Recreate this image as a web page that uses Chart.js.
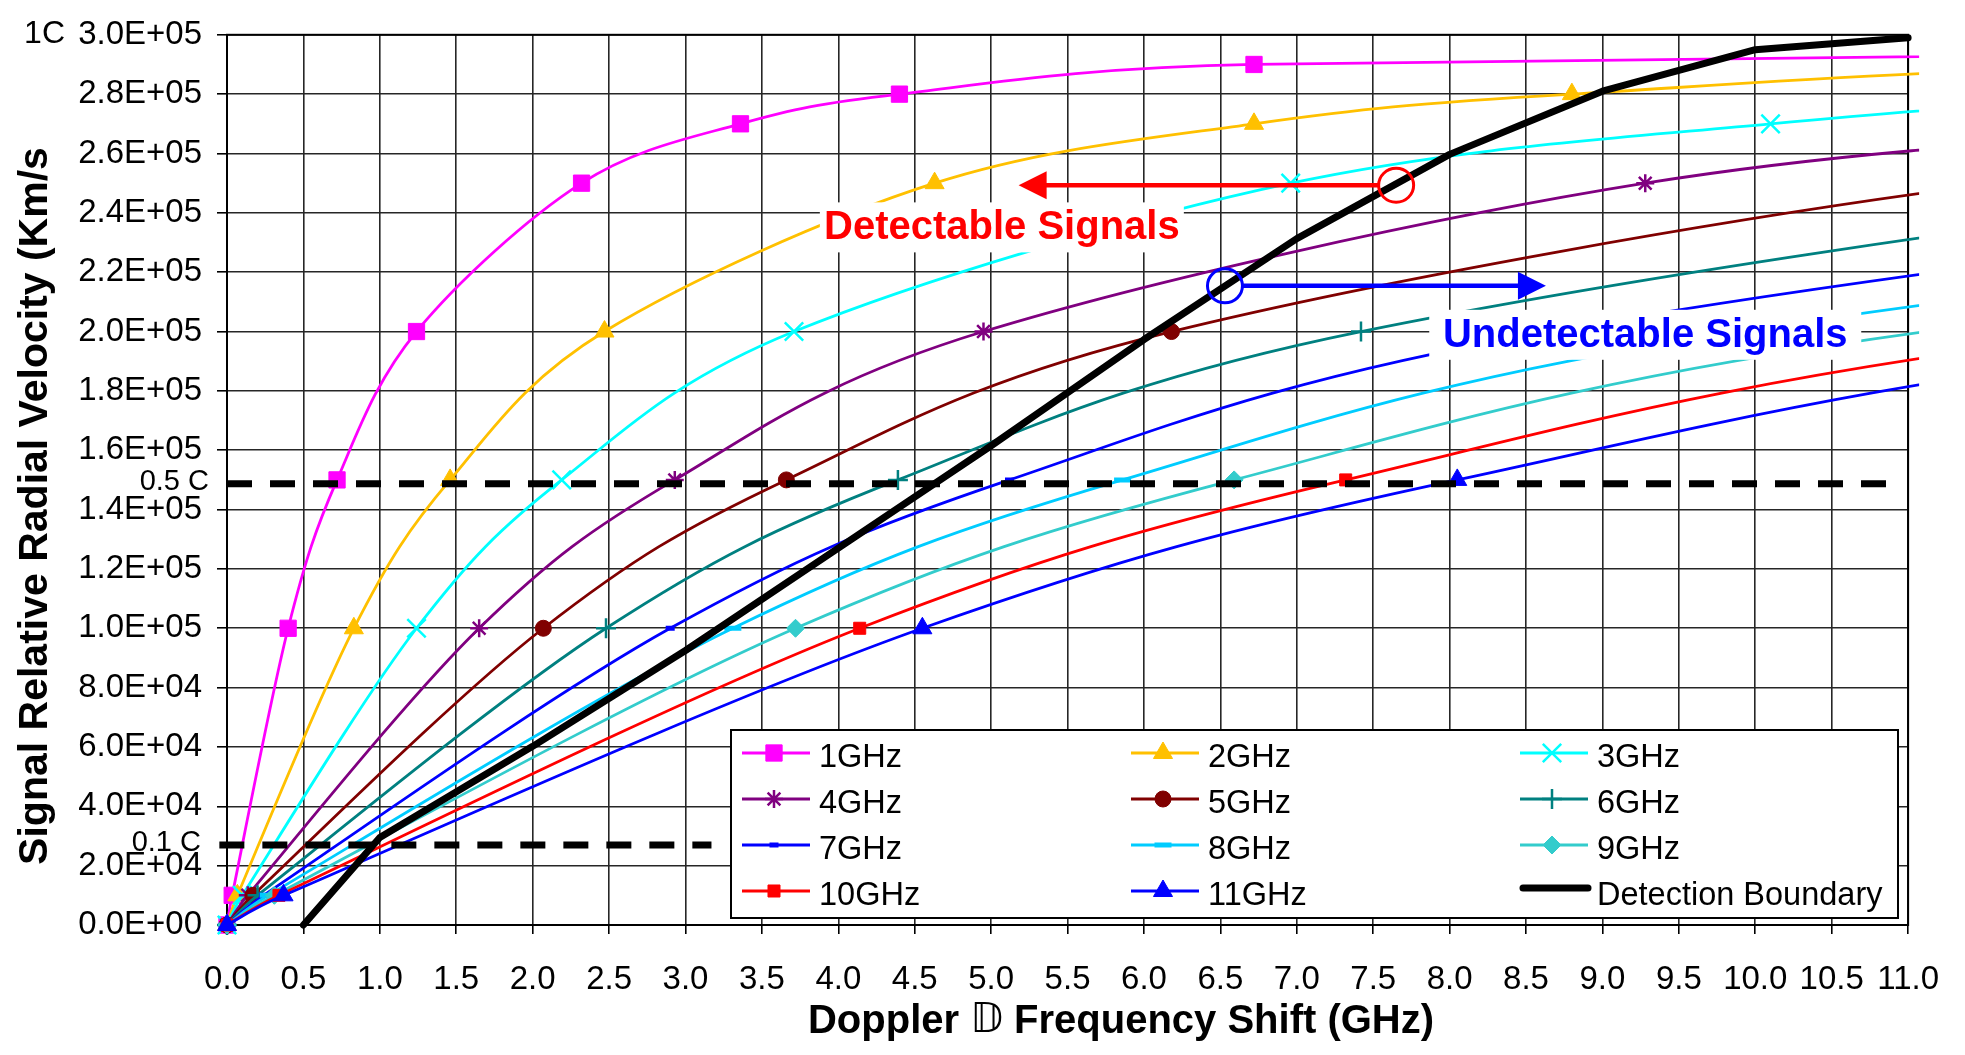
<!DOCTYPE html>
<html>
<head>
<meta charset="utf-8">
<title>Signal relative radial velocity vs Doppler frequency shift</title>
<script src="https://cdn.jsdelivr.net/npm/chart.js@4.4.1/dist/chart.umd.min.js"></script>
<style>
  html, body { margin: 0; padding: 0; background: #fff; }
  canvas { display: block; }
</style>
</head>
<body>
<canvas id="dopplerChart" width="1965" height="1055"></canvas>
<script>
// velocities (km/s) of the plotted points, shared by every carrier frequency
const velocity = [0, 1e4, 1e5, 1.5e5, 2e5, 2.5e5, 2.7e5, 2.8e5, 2.9e5, 2.99e5];

// Doppler shift (GHz) for each carrier (last ones run past the right edge)
const shift1GHz  = [0, 0.034, 0.40, 0.72, 1.24, 2.32, 3.36, 4.40, 6.72, 23.5];
const shift2GHz  = [0, 0.068, 0.83, 1.46, 2.47, 4.63, 6.72, 8.80, 13.36, 46.9];
const shift3GHz  = [0, 0.10, 1.24, 2.19, 3.71, 6.96, 10.10, 13.16, 20.0];
const shift4GHz  = [0, 0.136, 1.65, 2.93, 4.95, 9.28, 13.44, 17.5];
const shift5GHz  = [0, 0.17, 2.07, 3.66, 6.18, 11.58, 16.8];
const shift6GHz  = [0, 0.20, 2.48, 4.39, 7.42, 13.9, 20.15];
const shift7GHz  = [0, 0.24, 2.90, 5.12, 8.65, 16.2, 23.5];
const shift8GHz  = [0, 0.27, 3.31, 5.86, 9.89, 18.5, 26.9];
const shift9GHz  = [0, 0.31, 3.72, 6.59, 11.12, 20.85];
const shift10GHz = [0, 0.34, 4.14, 7.32, 12.36, 23.2];
const shift11GHz = [0, 0.37, 4.55, 8.05, 13.6, 25.5];

// detection boundary
const boundaryShift    = [0.5, 1.0, 2.0, 3.0, 4.0, 5.0, 6.0, 7.0, 8.0, 9.0, 10.0, 11.0];
const boundaryVelocity = [0, 2.95e4, 6.02e4, 9.25e4, 1.27e5, 1.615e5, 1.973e5, 2.313e5, 2.597e5, 2.81e5, 2.95e5, 2.99e5];

// 0.5 C and 0.1 C reference lines
const halfCShift = [0, 10.9];
const halfCVelocity = [1.487e5, 1.487e5];
const tenthCShift = [-0.05, 3.17];
const tenthCVelocity = [2.7e4, 2.7e4];

const seriesLabels = ['1GHz', '2GHz', '3GHz', '4GHz', '5GHz', '6GHz', '7GHz', '8GHz', '9GHz', '10GHz', '11GHz'];
const shifts = [shift1GHz, shift2GHz, shift3GHz, shift4GHz, shift5GHz, shift6GHz,
                shift7GHz, shift8GHz, shift9GHz, shift10GHz, shift11GHz];

const seriesColors = ['#ff00ff', '#ffc000', '#00ffff', '#800080', '#800000', '#008080',
                      '#0000ff', '#00ccff', '#33cccc', '#ff0000', '#0000ff'];
const markers = [
    { style: 'rect', r: 11.5, bw: 1 },
    { style: 'triangle', r: 11, bw: 1 },
    { style: 'crossRot', r: 13, bw: 2.5 },
    { style: 'star', r: 9, bw: 2.5 },
    { style: 'circle', r: 8, bw: 1 },
    { style: 'cross', r: 10, bw: 2.5 },
    { style: 'line', r: 4.5, bw: 5 },
    { style: 'line', r: 8.5, bw: 5 },
    { style: 'rectRot', r: 9, bw: 1 },
    { style: 'rect', r: 8.5, bw: 1 },
    { style: 'triangle', r: 11, bw: 1 }
];

const FONT = '"Liberation Sans", Arial, sans-serif';
const clipBox = { left: 14, top: 4, right: 11, bottom: 14 };
// wanted plot rectangle on the 1965x1055 canvas
const plotBox = { left: 227, top: 28, right: 1914, bottom: 925 };

function sci(v) {
    var parts = Number(v).toExponential(1).split('e');
    var sign = parts[1][0] === '-' ? '-' : '+';
    var digits = parts[1].replace(/[+-]/, '');
    if (digits.length < 2) digits = '0' + digits;
    return parts[0] + 'E' + sign + digits;
}

var datasets = shifts.map(function (xs, i) {
    var m = markers[i];
    return {
        label: seriesLabels[i],
        data: xs.map(function (x, k) { return { x: x, y: velocity[k] }; }),
        borderColor: seriesColors[i],
        backgroundColor: seriesColors[i],
        pointBackgroundColor: seriesColors[i],
        pointBorderColor: seriesColors[i],
        borderWidth: 2.8,
        tension: 0.3,
        smoothLikeExcel: true,
        pointStyle: m.style,
        pointRadius: function (c) { return c.raw && c.raw.x <= 11.05 ? m.r : 0; },
        pointHoverRadius: function (c) { return c.raw && c.raw.x <= 11.05 ? m.r : 0; },
        pointBorderWidth: m.bw,
        clip: clipBox,
        order: 100 - i
    };
});

datasets.push({
    label: 'Detection Boundary',
    data: boundaryShift.map(function (x, k) { return { x: x, y: boundaryVelocity[k] }; }),
    borderColor: '#000',
    backgroundColor: '#000',
    borderWidth: 7,
    borderJoinStyle: 'round',
    borderCapStyle: 'round',
    tension: 0,
    pointRadius: 0,
    clip: clipBox,
    order: 50
});
datasets.push({
    label: '0.5 C',
    data: halfCShift.map(function (x, k) { return { x: x, y: halfCVelocity[k] }; }),
    borderColor: '#000',
    borderWidth: 7,
    borderDash: [25, 18],
    pointRadius: 0,
    clip: clipBox,
    order: 40
});
datasets.push({
    label: '0.1 C',
    data: tenthCShift.map(function (x, k) { return { x: x, y: tenthCVelocity[k] }; }),
    borderColor: '#000',
    borderWidth: 7,
    borderDash: [25, 18],
    pointRadius: 0,
    clip: clipBox,
    order: 40
});

// Excel style smoothing: Bezier with 1/6 control arms, capped at half the segment
const excelSmooth = {
    id: 'excelSmooth',
    beforeDatasetDraw: function (chart, args) {
        var ds = chart.data.datasets[args.index];
        if (!ds.smoothLikeExcel) return;
        var pts = args.meta.data;
        var n = pts.length;
        for (var i = 0; i < n - 1; i++) {
            var p0 = pts[Math.max(i - 1, 0)], p1 = pts[i], p2 = pts[i + 1], p3 = pts[Math.min(i + 2, n - 1)];
            var d12 = Math.hypot(p2.x - p1.x, p2.y - p1.y);
            var d02 = Math.hypot(p2.x - p0.x, p2.y - p0.y);
            var d13 = Math.hypot(p3.x - p1.x, p3.y - p1.y);
            var f1 = d02 > 0 ? Math.min(1 / 6, d12 / (2 * d02)) : 0;
            var f2 = d13 > 0 ? Math.min(1 / 6, d12 / (2 * d13)) : 0;
            p1.cp2x = p1.x + (p2.x - p0.x) * f1;
            p1.cp2y = p1.y + (p2.y - p0.y) * f1;
            p2.cp1x = p2.x - (p3.x - p1.x) * f2;
            p2.cp1y = p2.y - (p3.y - p1.y) * f2;
        }
        if (n) { pts[0].cp1x = pts[0].x; pts[0].cp1y = pts[0].y; pts[n - 1].cp2x = pts[n - 1].x; pts[n - 1].cp2y = pts[n - 1].y; }
        args.meta.dataset._pointsUpdated = true;
        args.meta.dataset._path = undefined;
    }
};

const frame = {
    id: 'frame',
    beforeDatasetsDraw: function (chart) {
        var a = chart.chartArea, ctx = chart.ctx;
        ctx.save();
        ctx.strokeStyle = '#000';
        ctx.lineWidth = 2;
        ctx.strokeRect(a.left, a.top, a.right - a.left, a.bottom - a.top);
        ctx.restore();
    }
};

function arrowHead(ctx, tipX, y, dir) {
    ctx.beginPath();
    ctx.moveTo(tipX, y);
    ctx.lineTo(tipX - dir * 28, y - 14);
    ctx.lineTo(tipX - dir * 28, y + 14);
    ctx.closePath();
    ctx.fill();
}

function labelBox(ctx, text, cx, cy, w, h, color) {
    ctx.fillStyle = '#fff';
    ctx.fillRect(cx - w / 2, cy - h / 2, w, h);
    ctx.fillStyle = color;
    ctx.font = 'bold 40px ' + FONT;
    ctx.textAlign = 'center';
    ctx.textBaseline = 'middle';
    ctx.fillText(text, cx, cy + 1);
}

const annotations = {
    id: 'annotations',
    afterDatasetsDraw: function (chart) {
        var ctx = chart.ctx, xs = chart.scales.x, ys = chart.scales.y;
        ctx.save();
        // detectable: red ring on the boundary, arrow to the left
        var rx = xs.getPixelForValue(7.65), ry = ys.getPixelForValue(2.493e5);
        var tipL = xs.getPixelForValue(5.18);
        ctx.strokeStyle = '#ff0000';
        ctx.fillStyle = '#ff0000';
        ctx.lineWidth = 4.5;
        ctx.beginPath();
        ctx.moveTo(rx - 17, ry);
        ctx.lineTo(tipL + 26, ry);
        ctx.stroke();
        arrowHead(ctx, tipL, ry, -1);
        ctx.lineWidth = 3;
        ctx.beginPath();
        ctx.ellipse(rx, ry, 17.5, 17, 0, 0, Math.PI * 2);
        ctx.stroke();

        // undetectable: blue ring, arrow to the right
        var bx = xs.getPixelForValue(6.53), by = ys.getPixelForValue(2.154e5);
        var tipR = xs.getPixelForValue(8.63);
        ctx.strokeStyle = '#0000ff';
        ctx.fillStyle = '#0000ff';
        ctx.lineWidth = 4.5;
        ctx.beginPath();
        ctx.moveTo(bx + 17, by);
        ctx.lineTo(tipR - 26, by);
        ctx.stroke();
        arrowHead(ctx, tipR, by, 1);
        ctx.lineWidth = 3;
        ctx.beginPath();
        ctx.ellipse(bx, by, 17.5, 17, 0, 0, Math.PI * 2);
        ctx.stroke();

        labelBox(ctx, 'Detectable Signals', xs.getPixelForValue(5.07), ys.getPixelForValue(2.351e5), 364, 50, '#ff0000');
        labelBox(ctx, 'Undetectable Signals', xs.getPixelForValue(9.28), ys.getPixelForValue(1.989e5), 432, 50, '#0000ff');
        ctx.restore();
    }
};

const boxLegend = {
    id: 'boxLegend',
    afterDatasetsDraw: function (chart) {
        var ctx = chart.ctx;
        ctx.save();
        ctx.fillStyle = '#fff';
        ctx.fillRect(731, 730, 1167, 188);
        ctx.strokeStyle = '#000';
        ctx.lineWidth = 2;
        ctx.strokeRect(731, 730, 1167, 188);
        chart.data.datasets.slice(0, 12).forEach(function (ds, i) {
            var col = i % 3, row = Math.floor(i / 3);
            var x0 = 742 + col * 389, y = 753 + row * 46;
            ctx.strokeStyle = ds.borderColor;
            ctx.fillStyle = ds.borderColor;
            ctx.setLineDash([]);
            ctx.beginPath();
            if (i < 11) {
                ctx.lineWidth = 3;
                ctx.lineCap = 'butt';
                ctx.moveTo(x0, y);
                ctx.lineTo(x0 + 68, y);
                ctx.stroke();
                var m = markers[i];
                ctx.lineWidth = m.bw;
                Chart.helpers.drawPoint(ctx, { pointStyle: m.style, rotation: 0, radius: m.r, borderWidth: m.bw }, x0 + 32, y);
            } else {
                ctx.lineWidth = 7;
                ctx.lineCap = 'round';
                ctx.moveTo(x0 + 3, y - 3);
                ctx.lineTo(x0 + 68, y - 3);
                ctx.stroke();
            }
            ctx.fillStyle = '#000';
            ctx.font = '32.5px ' + FONT;
            ctx.textAlign = 'left';
            ctx.textBaseline = 'middle';
            ctx.fillText(ds.label, x0 + 77, y + 5);
        });
        ctx.restore();
    }
};

const axisText = {
    id: 'axisText',
    afterDraw: function (chart) {
        var ctx = chart.ctx, ys = chart.scales.y;
        ctx.save();
        ctx.fillStyle = '#000';
        ctx.textBaseline = 'middle';
        ctx.textAlign = 'right';
        ctx.font = '32px ' + FONT;
        ctx.fillText('1C', 65, ys.getPixelForValue(3e5) - 1);
        ctx.font = '29px ' + FONT;
        ctx.fillText('0.5 C', 209, ys.getPixelForValue(1.5e5) + 2);
        ctx.fillText('0.1 C', 201, ys.getPixelForValue(2.7e4) - 2);

        // y title
        ctx.save();
        ctx.translate(36, 506);
        ctx.rotate(-Math.PI / 2);
        ctx.textAlign = 'center';
        ctx.font = 'bold 41px ' + FONT;
        ctx.fillText('Signal Relative Radial Velocity (Km/s', 0, 0);
        ctx.restore();

        // x title with the double-struck D
        var parts = [
            { t: 'Doppler ', f: 'bold 40px ' + FONT },
            { t: '\u{1D53B}', f: '40px "DejaVu Sans", sans-serif' },
            { t: ' Frequency Shift (GHz)', f: 'bold 40px ' + FONT }
        ];
        var total = 0;
        parts.forEach(function (p) { ctx.font = p.f; p.w = ctx.measureText(p.t).width; total += p.w; });
        var x = 1121 - total / 2;
        ctx.textAlign = 'left';
        parts.forEach(function (p) { ctx.font = p.f; ctx.fillText(p.t, x, 1022); x += p.w; });
        ctx.restore();
    }
};

var xAxisHeight = 1055 - plotBox.bottom;
var yAxisWidth = plotBox.left;

var chart = new Chart(document.getElementById('dopplerChart'), {
    type: 'line',
    data: { datasets: datasets },
    options: {
        responsive: false,
        animation: false,
        events: [],
        devicePixelRatio: 1,
        layout: { padding: { left: 0, top: plotBox.top, right: 1965 - plotBox.right, bottom: 0 } },
        elements: { line: { capBezierPoints: false } },
        plugins: { legend: { display: false }, tooltip: { enabled: false } },
        scales: {
            x: {
                type: 'linear',
                min: 0,
                max: 11,
                afterFit: function (s) { s.height = xAxisHeight; },
                ticks: {
                    stepSize: 0.5,
                    autoSkip: false,
                    maxRotation: 0,
                    padding: 26,
                    color: '#000',
                    font: { family: FONT, size: 33 },
                    callback: function (v) { return Number(v).toFixed(1); }
                },
                grid: { color: '#262626', lineWidth: 1.6, tickLength: 9, tickColor: '#000' },
                border: { color: '#000', width: 2 }
            },
            y: {
                type: 'linear',
                min: 0,
                max: 300000,
                afterFit: function (s) { s.width = yAxisWidth; },
                ticks: {
                    stepSize: 20000,
                    autoSkip: false,
                    padding: 15,
                    color: '#000',
                    font: { family: FONT, size: 33 },
                    callback: function (v) { return sci(v); }
                },
                grid: { color: '#262626', lineWidth: 1.6, tickLength: 10, tickColor: '#000' },
                border: { color: '#000', width: 2 }
            }
        }
    },
    plugins: [excelSmooth, frame, annotations, boxLegend, axisText]
});

// nudge the layout so the plot rectangle lands where the original has it
for (var pass = 0; pass < 2; pass++) {
    var area = chart.chartArea;
    var pad = chart.options.layout.padding;
    pad.top += plotBox.top - area.top;
    pad.right += area.right - plotBox.right;
    xAxisHeight += area.bottom - plotBox.bottom;
    yAxisWidth += plotBox.left - area.left;
    chart.update();
}
</script>
</body>
</html>
